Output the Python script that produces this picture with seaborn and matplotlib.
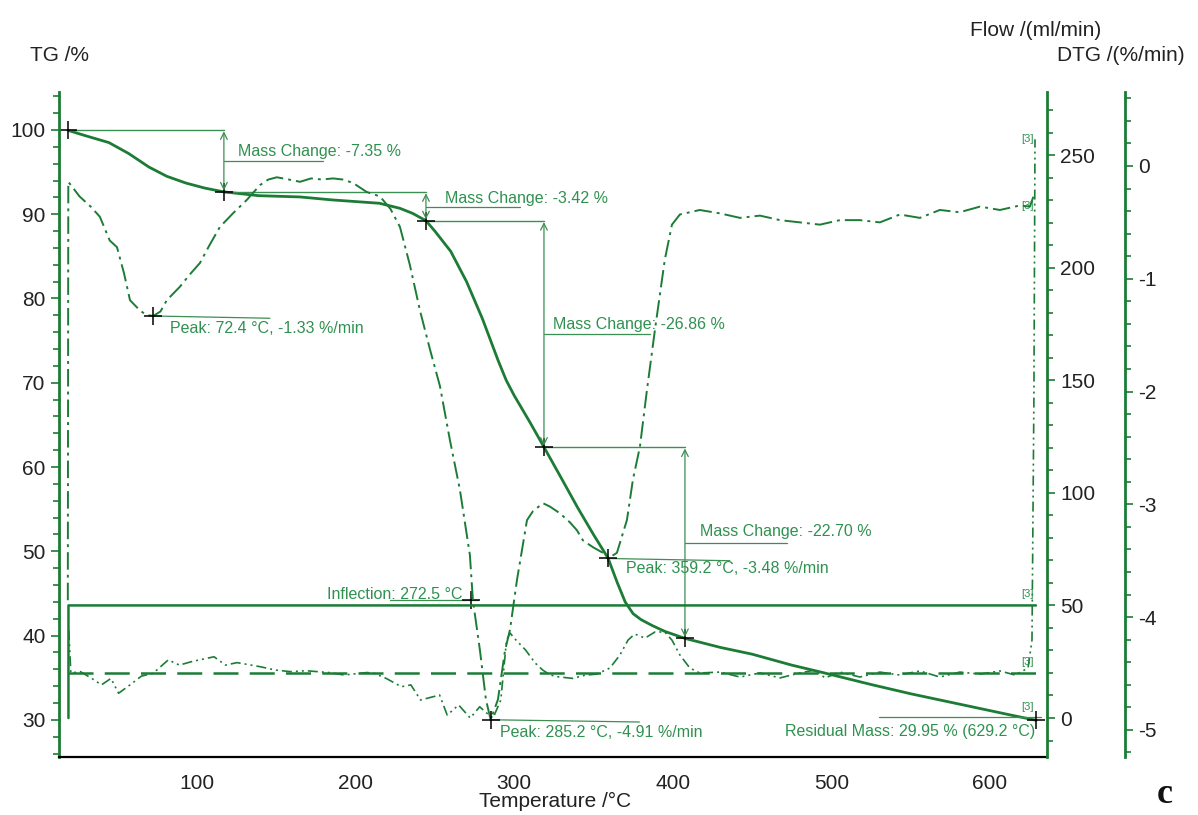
import matplotlib
matplotlib.use("Agg")
import matplotlib.pyplot as plt
from matplotlib.ticker import MultipleLocator
import seaborn as sns

# ---- data ----
# TG curve (%)
tg_temp = [18.7, 30, 44.5, 57, 69.7, 81, 93, 105, 117, 139, 165, 185, 215, 228, 236, 244.4,
           250, 260, 270, 280, 290, 295, 300, 310, 318.8, 330, 340, 350, 359.2, 365, 370,
           375, 380, 387, 395, 407.7, 430, 450, 475, 495, 525, 550, 575, 600, 615, 629.2]
tg_val = [99.95, 99.3, 98.5, 97.2, 95.6, 94.5, 93.7, 93.1, 92.65, 92.2, 92.05, 91.7, 91.3, 90.7, 90.1, 89.23,
          88.0, 85.6, 82.0, 77.6, 72.6, 70.3, 68.5, 65.3, 62.37, 58.6, 55.2, 52.0, 49.2, 46.3, 44.0,
          42.6, 41.9, 41.2, 40.5, 39.67, 38.6, 37.8, 36.5, 35.6, 34.2, 33.1, 32.1, 31.1, 30.5, 29.95]

# DTG curve (%/min)
dtg_temp = [18.6, 18.9, 26, 33, 38.8, 45, 49.6, 54, 57.8, 64, 68, 72.4, 77, 81, 89.3, 95, 101.9, 108,
            114.5, 122.7, 131.5, 139.7, 145, 150.4, 158, 165, 172, 179, 185.8, 192, 198.4, 207, 215.4,
            222, 228, 234.3, 240.6, 247, 253.2, 259.5, 265.8, 272.1, 274, 278.4, 282.2, 285.2, 289.8,
            294.2, 297.4, 301.8, 308.1, 311.9, 318.2, 322.6, 328.9, 335.2, 339.6, 343.4, 349.7, 356,
            359.2, 364.8, 371.1, 374.9, 379.3, 383.7, 388.8, 395, 399.5, 404.5, 410.8, 417, 429.8,
            442.4, 455, 467.6, 480.2, 492.8, 505.4, 518, 530.6, 543.2, 555.8, 568.4, 581, 593.7,
            606.3, 618.9, 625.2, 628.4]
dtg_val = [-3.85, -0.14, -0.27, -0.36, -0.45, -0.66, -0.72, -0.95, -1.19, -1.28, -1.32, -1.33, -1.29,
           -1.19, -1.07, -0.97, -0.86, -0.70, -0.54, -0.42, -0.30, -0.17, -0.12, -0.10, -0.12, -0.14,
           -0.11, -0.12, -0.11, -0.12, -0.15, -0.23, -0.27, -0.38, -0.54, -0.88, -1.28, -1.63, -1.95,
           -2.43, -2.87, -3.45, -3.85, -4.29, -4.73, -4.91, -4.73, -4.30, -4.11, -3.67, -3.14, -3.06,
           -2.99, -3.02, -3.08, -3.16, -3.23, -3.32, -3.38, -3.43, -3.48, -3.43, -3.14, -2.78, -2.49,
           -1.99, -1.45, -0.83, -0.52, -0.43, -0.41, -0.39, -0.42, -0.46, -0.44, -0.48, -0.50, -0.52,
           -0.48, -0.48, -0.50, -0.43, -0.46, -0.39, -0.41, -0.36, -0.39, -0.35, -0.36, -0.23]

# second signal near the purge-gas baseline (ml/min scale)
sig_temp = [19.2, 20.5, 26.5, 33.7, 39.8, 45.8, 50.6, 57.8, 65, 72.3, 81.9, 89, 96.4, 110.8, 118,
            125.3, 139.8, 149.4, 159, 168.7, 183, 192.8, 207.2, 212, 219.3, 228.9, 234.9, 241, 253,
            257.8, 265, 272.3, 278.3, 282, 286.7, 291.6, 295.2, 297.5, 300, 307.2, 313.3, 318, 322.9,
            327.7, 337, 344.6, 352, 360.4, 366.7, 371.8, 376, 382.5, 388.8, 395, 399.5, 404.5, 410.8,
            417, 429.8, 442.4, 455, 467.6, 480, 489.7, 496, 505.4, 518, 530.6, 543, 555.8, 568.4,
            581, 593.7, 606.3, 615.8, 624, 626.5, 627.7, 628.4]
sig_val = [39, 20, 20.6, 17.6, 14.7, 17.6, 11, 14.7, 18.6, 19.8, 25.8, 23.5, 25, 27.2, 23.5,
           24.6, 22.8, 21.3, 20.6, 21, 20.2, 19.1, 20.2, 19.8, 17.6, 13.9, 14.7, 8, 10.2,
           1.3, 5.8, 0, 5, 2.6, 0, 8, 34.6, 37.7, 35.5, 30.2, 24.4, 21.3, 19.1,
           18.3, 17.6, 19, 19.5, 22.2, 28, 34.6, 37.3, 35.5, 38.2, 38.2, 34.6, 28, 22.2,
           20, 20.4, 18.2, 20, 17.8, 20, 21.3, 17.8, 20.4, 18.2, 20.4, 19.1, 20.9, 18.2,
           20.4, 19.5, 20.9, 19.1, 22.2, 34.6, 141, 257]

# gas flows (ml/min)
flow_temp = [19.0, 19.01, 629.0]
flow_val = [0, 50, 50]
purge_temp = [19.0, 629.0]
purge_val = [20, 20]

# mass-change steps
step_temp = [18.7, 117.0, 244.4, 318.8, 407.7]
step_tg = [100.0, 92.65, 89.23, 62.37, 39.67]
step_text = ["Mass Change: -7.35 %", "Mass Change: -3.42 %", "Mass Change: -26.86 %", "Mass Change: -22.70 %"]
step_text_pos = [(126, 97.4), (256.4, 91.9), (324.5, 76.9), (417.2, 52.3)]
step_leader = [(179.5, 96.3), (303.7, 90.9), (385.6, 75.8), (472, 51.0)]

# DTG peaks
peak_temp = [72.4, 285.2, 359.2]
peak_dtg = [-1.33, -4.91, -3.48]
peak_text_pos = [(83, -1.44), (291, -5.02), (370.5, -3.57)]
peak_leader_end = [146, 379, 436]

green = "#1c7c36"
txt_green = "#2f9150"
ann_green = "#3b8f52"

sns.set_style("white")
plt.rcParams["font.family"] = ["Liberation Sans", "DejaVu Sans"]
plt.rcParams["axes.unicode_minus"] = False

fig = plt.figure(figsize=(11.98, 8.15), dpi=100)
ax = fig.add_axes([0.0492, 0.0712, 0.8248, 0.8159])
ax_flow = ax.twinx()
ax_dtg = ax.twinx()

# curves
sns.lineplot(x=tg_temp, y=tg_val, ax=ax, color=green, linewidth=2.0, estimator=None, sort=False)
sns.lineplot(x=flow_temp, y=flow_val, ax=ax_flow, color=green, linewidth=1.8, estimator=None, sort=False)
sns.lineplot(x=purge_temp, y=purge_val, ax=ax_flow, color=green, linewidth=1.8, estimator=None, sort=False)
ax_flow.lines[-1].set_dashes((10, 4.5))
sns.lineplot(x=sig_temp, y=sig_val, ax=ax_flow, color=green, linewidth=1.2, estimator=None, sort=False)
ax_flow.lines[-1].set_dashes((6, 2.4, 1.2, 2.4, 1.2, 2.4))
sns.lineplot(x=dtg_temp, y=dtg_val, ax=ax_dtg, color=green, linewidth=1.4, estimator=None, sort=False)
ax_dtg.lines[-1].set_dashes((9, 2.6, 1.5, 2.6))

# mass change annotations
for i in range(len(step_text)):
    t0, t1 = step_temp[i], step_temp[i + 1]
    g0, g1 = step_tg[i], step_tg[i + 1]
    ax.plot([t0, t1], [g0, g0], color=ann_green, lw=1.0)
    ax.annotate("", xy=(t1, g1), xytext=(t1, g0),
                arrowprops=dict(arrowstyle="<->", color=ann_green, lw=0.9,
                                shrinkA=1, shrinkB=1, mutation_scale=12))
    ax.plot([t1, step_leader[i][0]], [step_leader[i][1]] * 2, color=ann_green, lw=0.9)
    ax.text(step_text_pos[i][0], step_text_pos[i][1], step_text[i], color=txt_green,
            fontsize=11.5, va="center", ha="left")
ax.plot(step_temp, step_tg, ls="none", marker="+", ms=13, mew=1.1, color="black")

# peaks
for i in range(len(peak_temp)):
    ax_dtg.plot([peak_temp[i], peak_leader_end[i]], [peak_dtg[i], peak_dtg[i] - 0.02],
                color=ann_green, lw=0.9)
    ax_dtg.text(peak_text_pos[i][0], peak_text_pos[i][1],
                "Peak: %.1f °C, %.2f %%/min" % (peak_temp[i], peak_dtg[i]),
                color=txt_green, fontsize=11.5, va="center", ha="left")
ax_dtg.plot(peak_temp, peak_dtg, ls="none", marker="+", ms=13, mew=1.1, color="black")

# inflection
ax.plot([221.7, 277.1], [44.25, 44.25], color=ann_green, lw=0.9)
ax.text(267.5, 44.9, "Inflection: 272.5 °C", color=txt_green, fontsize=11.5, va="center", ha="right")
ax.plot([273], [44.2], ls="none", marker="+", ms=13, mew=1.1, color="black")

# residual mass
ax.plot([530, 632], [30.3, 30.3], color=ann_green, lw=0.9)
ax.text(628.4, 28.6, "Residual Mass: 29.95 % (629.2 °C)", color=txt_green, fontsize=11.5,
        va="center", ha="right")
ax.plot([629.2], [29.95], ls="none", marker="+", ms=13, mew=1.1, color="black")

# segment end tags
for yv in [255, 225, 53, 22.5, 2.5]:
    ax_flow.text(627.5, yv, "[3]", color=txt_green, fontsize=8, ha="right", va="bottom")

# axes limits and ticks
ax.set_xlim(13.0, 636.0)
ax.set_ylim(25.6, 104.5)
ax_flow.set_ylim(-17.3, 278)
ax_dtg.set_ylim(-5.24, 0.656)

ax.xaxis.set_major_locator(MultipleLocator(100))
ax.xaxis.set_minor_locator(MultipleLocator(20))
ax.yaxis.set_major_locator(MultipleLocator(10))
ax.yaxis.set_minor_locator(MultipleLocator(2))
ax_flow.yaxis.set_major_locator(MultipleLocator(50))
ax_flow.yaxis.set_minor_locator(MultipleLocator(10))
ax_dtg.yaxis.set_major_locator(MultipleLocator(1))
ax_dtg.yaxis.set_minor_locator(MultipleLocator(0.2))

for a in (ax, ax_flow, ax_dtg):
    for s in a.spines.values():
        s.set_visible(False)
ax.spines["left"].set_visible(True)
ax.spines["left"].set_color(green)
ax.spines["left"].set_linewidth(2)
ax.spines["bottom"].set_visible(True)
ax.spines["bottom"].set_color("black")
ax.spines["bottom"].set_linewidth(1.6)
ax_flow.spines["right"].set_visible(True)
ax_flow.spines["right"].set_color(green)
ax_flow.spines["right"].set_linewidth(2)
ax_dtg.spines["right"].set_visible(True)
ax_dtg.spines["right"].set_position(("axes", 1.0789))
ax_dtg.spines["right"].set_color(green)
ax_dtg.spines["right"].set_linewidth(2)

ax.tick_params(axis="x", which="both", direction="out", color="black", width=1.2,
               labelsize=15, labelcolor="#222222", pad=6)
ax.tick_params(axis="x", which="major", length=6)
ax.tick_params(axis="x", which="minor", length=5)
for a in (ax, ax_flow, ax_dtg):
    a.tick_params(axis="y", which="both", direction="out", color=green, width=1.2,
                  labelsize=15, labelcolor="#222222")
    a.tick_params(axis="y", which="major", length=6)
    a.tick_params(axis="y", which="minor", length=4)
ax.set_xlabel("")
ax.set_ylabel("")
ax_flow.set_ylabel("")
ax_dtg.set_ylabel("")
ax.grid(False)
ax_flow.grid(False)
ax_dtg.grid(False)

# axis titles
fig.text(0.025, 0.9325, "TG /%", fontsize=15, color="#222222", va="center", ha="left")
fig.text(0.8097, 0.963, "Flow /(ml/min)", fontsize=15, color="#222222", va="center", ha="left")
fig.text(0.8823, 0.9325, "DTG /(%/min)", fontsize=15, color="#222222", va="center", ha="left")
fig.text(0.4633, 0.016, "Temperature /°C", fontsize=15, color="#222222", va="center", ha="center")
fig.text(0.9725, 0.025, "c", fontsize=26, fontweight="bold", family="Liberation Serif",
         color="#111111", va="center", ha="center")

plt.savefig("out.png", dpi=100)
